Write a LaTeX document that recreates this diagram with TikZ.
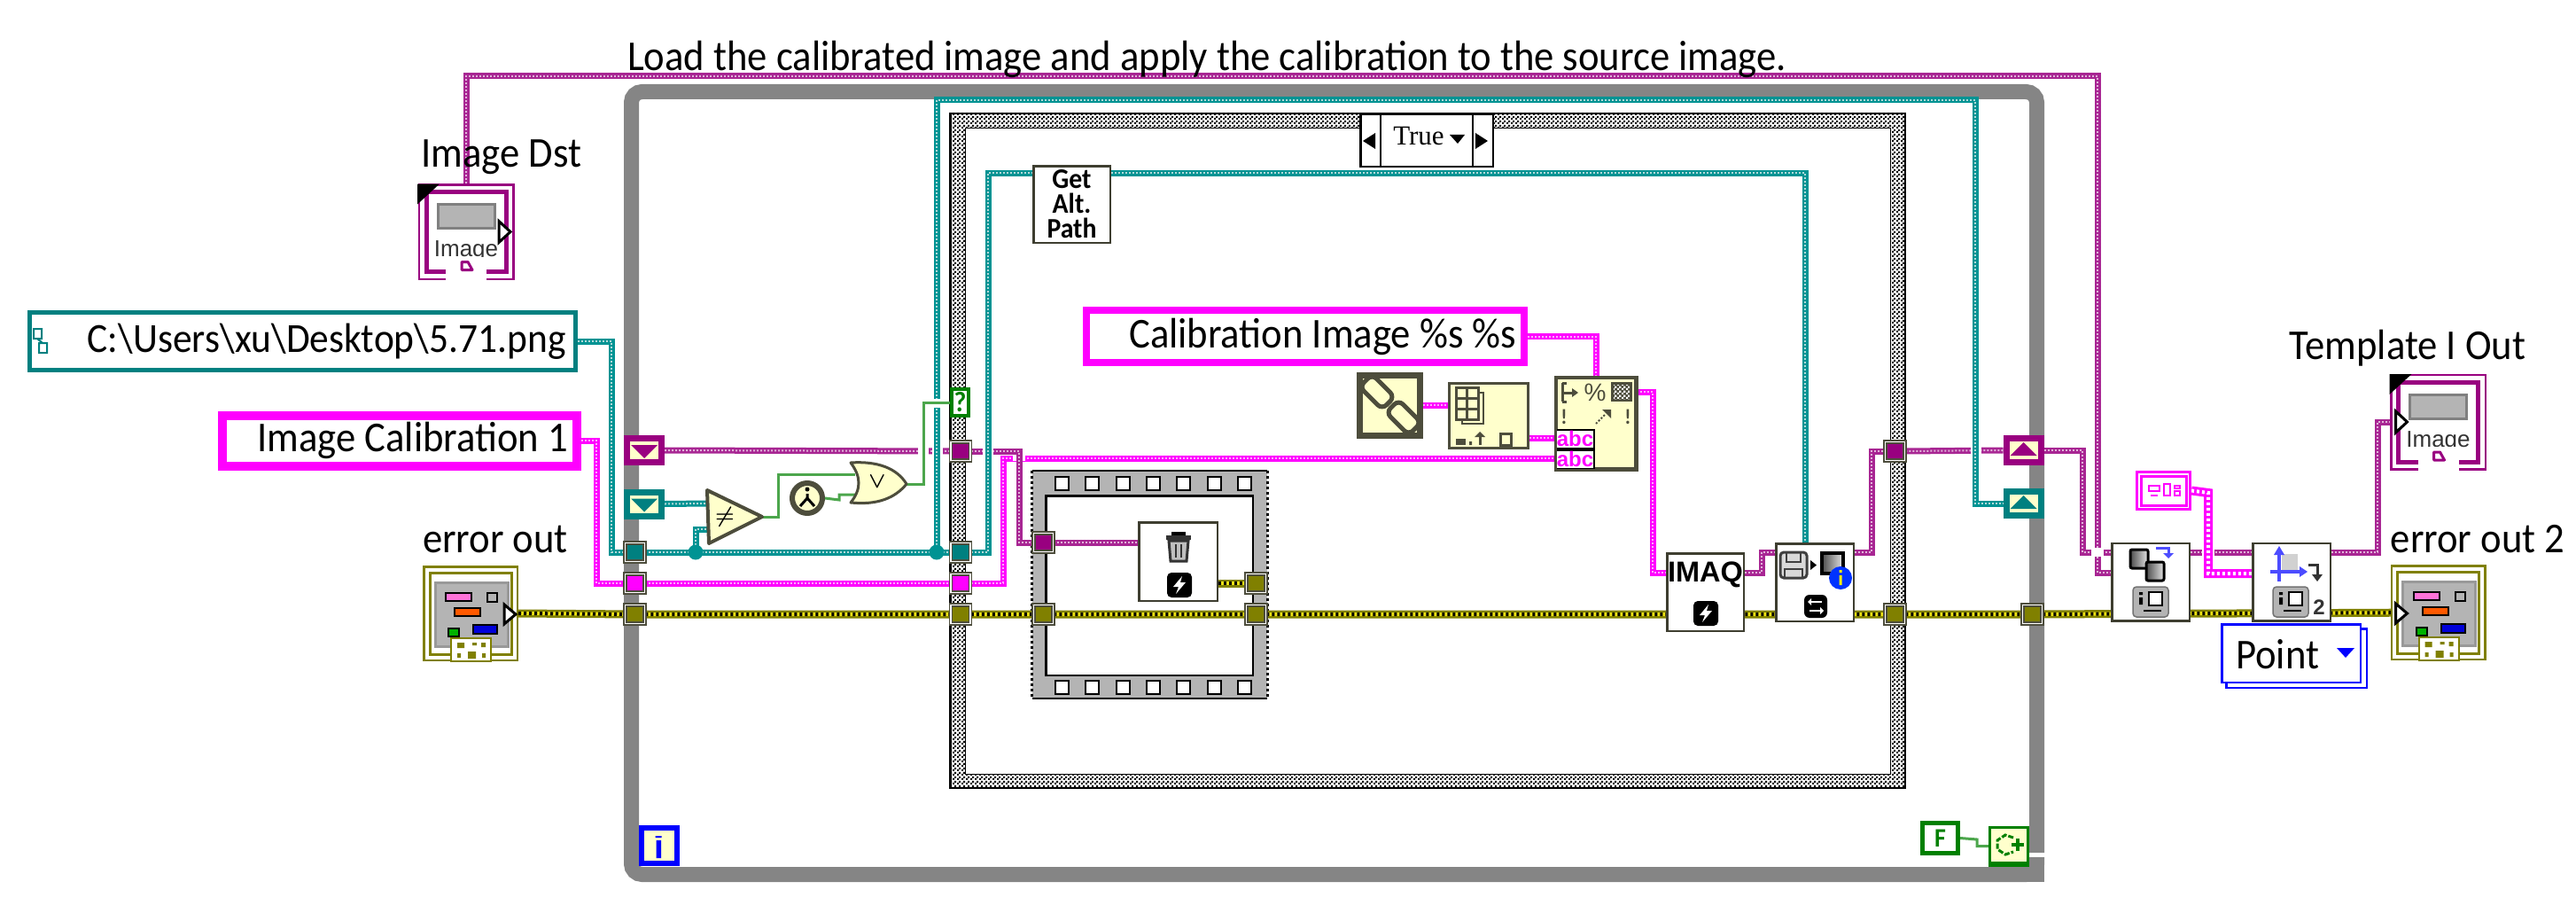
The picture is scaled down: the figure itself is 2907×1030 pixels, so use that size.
\documentclass[tikz,border=0pt]{standalone}
\usepackage{fontspec}
\setmainfont{Carlito}[FakeStretch=0.93]
\newfontfamily\liberationserif{Liberation Serif}
\newfontfamily\liberationsans{Liberation Sans}
\usetikzlibrary{patterns,calc}
\definecolor{lvpurple}{HTML}{990080}
\definecolor{lvteal}{HTML}{008080}
\definecolor{lvmag}{HTML}{FF00FF}
\definecolor{lvolive}{HTML}{808000}
\definecolor{lvgreen}{HTML}{008000}
\definecolor{lvblue}{HTML}{0000FF}
\definecolor{lvyellow}{HTML}{FFFFCC}
\definecolor{lvdark}{HTML}{4D4D3C}
\definecolor{lvgray}{HTML}{858585}
\definecolor{lvpanel}{HTML}{B4B4B4}
\pgfdeclarelayer{bg}
\pgfdeclarelayer{wires}
\pgfsetlayers{bg,wires,main}
\pgfdeclarepatternformonly{finecheck}{\pgfpointorigin}{\pgfqpoint{5pt}{5pt}}{\pgfqpoint{5pt}{5pt}}{%
  \pgfpathrectangle{\pgfpointorigin}{\pgfqpoint{2.5pt}{2.5pt}}%
  \pgfpathrectangle{\pgfqpoint{2.5pt}{2.5pt}}{\pgfqpoint{2.5pt}{2.5pt}}%
  \pgfusepath{fill}}
\tikzset{
  lab/.style={font=\fontsize{48}{52}\selectfont,inner sep=0},
  % wires: a coloured band with a dotted core
  wpur/.style={draw=lvpurple!85!white,line width=7,postaction={draw=white!70!lvpurple,line width=2,dash pattern=on 2pt off 2pt}},
  wteal/.style={draw=lvteal!85!cyan,line width=7,postaction={draw=white!70!lvteal,line width=2,dash pattern=on 2pt off 2pt}},
  wmag/.style={draw=lvmag,line width=7,postaction={draw=white!65!lvmag,line width=2,dash pattern=on 2pt off 2pt}},
  werr/.style={draw=lvolive,line width=9,postaction={draw=yellow!85!lvolive,line width=4},postaction={draw=black,line width=4,dash pattern=on 3pt off 3pt}},
  wbool/.style={draw=lvgreen!70!white,line width=3},
  whatch/.style={draw=lvmag,line width=10,postaction={draw=white,line width=4,dash pattern=on 3pt off 3pt}},
  gap/.style={draw=white,line width=12},
  whileloop/.style={rectangle,draw=lvgray,line width=17,fill=white,rounded corners=12,inner sep=0},
  casefr/.style={rectangle,draw=black,line width=2.5,pattern=finecheck,pattern color=black,inner sep=0},
  blk/.style={rectangle,draw=lvdark!80!black,line width=2.5,fill=white,inner sep=0},
  ybox/.style={rectangle,draw=lvdark,line width=3,fill=lvyellow,inner sep=0},
  tun/.style={rectangle,draw=lvdark,line width=1.5,double=white,double distance=1.5,minimum width=22,minimum height=21,inner sep=0},
  sreg/.style={rectangle,draw=#1,line width=7,fill=lvyellow,minimum width=39,minimum height=27,inner sep=0},
  junc/.style={circle,fill=lvteal!85!cyan,minimum size=17,inner sep=0},
  strcon/.style={rectangle,draw=lvmag,line width=8,fill=white,inner sep=0,align=flush right},
  gate/.style={draw=lvdark,line width=3,fill=lvyellow,line join=round},
  bolt/.pic={
    \fill[black,rounded corners=5] (-14,-14) rectangle (14,14);
    \fill[white] (3,-10) -- (-7,2) -- (-1,2) -- (-4,10) -- (7,-3) -- (1,-3) -- cycle;
  },
  device/.pic={
    \fill[lvpanel,draw=black!55,line width=1.5,rounded corners=4] (-20,-17) rectangle (20,17);
    \fill[white,draw=black,line width=2] (-2,-11) rectangle (13,4);
    \fill[black] (-13,-11) rectangle (-9,-8) (-13,-5) rectangle (-9,3);
    \draw[black,line width=2] (-8,10) -- (12,10);
  },
}
\begin{document}
\begin{tikzpicture}[x=1pt,y=-1pt]
  \useasboundingbox (0,0) rectangle (2907,1030);
  % the two structures
  \begin{pgfonlayer}{bg}
    \node[whileloop,minimum width=1586,minimum height=883] (loop) at (1505.5,545) {};
    \fill[lvgray] (2280,967) rectangle (2307,995);
    \fill[white] (2290,962) rectangle (2309,967);
    \node[casefr,minimum width=1077.5,minimum height=760.5] (casefr) at (1611,508.5) {};
    \node[rectangle,draw=black,line width=1,fill=white,minimum width=1044,minimum height=729] (casein) at (1611.5,509) {};
    % film strip
    \node[rectangle,fill=lvpanel,minimum width=265,minimum height=257] (film) at (1297.5,659.5) {};
    \draw[black,line width=2] (film.north west) -- (film.north east) (film.south west) -- (film.south east);
    \draw[black,line width=3,dashed] (film.north west) -- (film.south west) (film.north east) -- (film.south east);
    \node[rectangle,draw=black,line width=2.5,fill=white,minimum width=233.5,minimum height=202.5] (filmin) at (1297,660.5) {};
    \foreach \x in {1198,1232,1267,1301,1335,1370,1404} {
      \node[rectangle,draw=black,line width=2,fill=white,minimum size=15] (ha\x) at (\x,545) {};
      \node[rectangle,draw=black,line width=2,fill=white,minimum size=15] (hb\x) at (\x,775) {};
    }
  \end{pgfonlayer}
  % texts
  \node[lab,anchor=west] (title) at (708,67) {Load the calibrated image and apply the calibration to the source image.};
  \node[lab] (dstlab) at (566,177) {Image Dst};
  \node[lab] (errlab) at (559,608) {error out};
  \node[lab] (outlab) at (2717,393) {Template I Out};
  \node[lab] (errlab2) at (2796,608) {error out 2};
  % controls and constants
  \node[lab,font=\fontsize{46.7}{50}\selectfont,rectangle,draw=lvteal,line width=5,fill=white,minimum width=616,minimum height=65,text width=595,align=flush right] (pathc) at (341,385) {C:\textbackslash Users\textbackslash xu\textbackslash Desktop\textbackslash 5.71.png};
  \draw[lvteal,line width=2] (38,371) rectangle (47,382) (44,387) rectangle (53,398) (42,382) -- (48,387);
  \node[lab,strcon,line width=10,minimum width=400,minimum height=57,text width=380] (imgcal) at (451,497) {Image Calibration 1};
  \node[lab,strcon,minimum width=494,minimum height=59,text width=476] (calcon) at (1473,379.5) {Calibration Image \%s \%s};
  % terminals
  \foreach \n/\x/\y/\t in {imgd/526/261.5/37,imgt/2751.5/476/-48} {
    \begin{scope}[shift={(\x,\y)}]
      \node[rectangle,draw=lvpurple,line width=2.5,fill=white,minimum size=106.5,inner sep=0] (\n) at (0,0) {};
      \draw[lvpurple,line width=5] (-45,-45) rectangle (45,45);
      \fill[lvpanel,draw=black!50,line width=3] (-32,-31) rectangle (32,-4);
      \node[font=\liberationsans\fontsize{26}{26}\selectfont,text=black!80,inner sep=0] (\n txt) at (0,22) {Image};
      \fill[white] (-23,28) rectangle (23,55);
      \draw[lvpurple,line width=3,line join=round] (-5,34) -- (2,34) -- (7,43) -- (-5,43) -- cycle;
      \draw[black,line width=3,fill=white] (\t,-12) -- ++(13,12) -- ++(-13,12) -- cycle;
      \fill[black] (-55,-54) -- (-30,-54) -- (-55,-31) -- cycle;
    \end{scope}
  }
  \foreach \n/\x/\y/\t in {errin/531/692/38,errout/2751.5/691/-48} {
    \begin{scope}[shift={(\x,\y)}]
      \node[rectangle,draw=lvolive,line width=2.5,fill=white,minimum size=105.5,inner sep=0] (\n) at (0,0) {};
      \draw[lvolive,line width=3] (-46,-46) rectangle (46,46);
      \fill[lvpanel,draw=black!40,line width=3] (-40,-35) rectangle (42,37);
      \fill[pink!60!lvmag,draw=black,line width=2] (-28,-23) rectangle (1,-14);
      \fill[lvpanel,draw=black,line width=2] (19,-23) rectangle (30,-13);
      \fill[orange!70!red,draw=black,line width=2] (-18,-6) rectangle (11,3);
      \fill[green!70!black,draw=black,line width=2] (-25,17) rectangle (-13,26);
      \fill[blue!85!black,draw=black,line width=2] (3,13) rectangle (30,23);
      \draw[lvolive,line width=2,fill=white] (-22,28) rectangle (23,54);
      \fill[lvolive] (-15,33) rectangle (-7,39) (2,33) rectangle (7,36) (12,33) rectangle (17,38) (-15,45) rectangle (-11,50) (-3,43) rectangle (6,51) (13,45) rectangle (17,50);
      \draw[black,line width=3,fill=white] (\t,-10) -- ++(13,11) -- ++(-13,11) -- cycle;
    \end{scope}
  }
  % shift registers, tunnels
  \foreach \n/\x/\y/\c in {srp/727/508/lvpurple,srt/727/568.5/lvteal} {
    \node[sreg=\c] (\n) at (\x,\y) {};
    \fill[\c] (\x-15,\y-6) -- (\x+15,\y-6) -- (\x+6,\y+3) -- (\x,\y+9) -- (\x-6,\y+3) -- cycle;
  }
  \foreach \n/\x/\y/\c in {srpr/2283.5/508/lvpurple,srtr/2283.5/568/lvteal} {
    \node[sreg=\c] (\n) at (\x,\y) {};
    \fill[\c] (\x-15,\y+6) -- (\x+15,\y+6) -- (\x+6,\y-3) -- (\x,\y-9) -- (\x-6,\y-3) -- cycle;
  }
  \foreach \n/\x/\y/\c in {wl1/716.5/623/lvteal,wl2/716.5/658/lvmag,wl3/716.5/693/lvolive,
                           cl1/1084/509/lvpurple,cl2/1084/623/lvteal,cl3/1084/658/lvmag,cl4/1084/693/lvolive,
                           fl1/1177.5/612/lvpurple,fl2/1177.5/693/lvolive,fr1/1417.5/658/lvolive,fr2/1417.5/693/lvolive,
                           cr1/2138.5/509/lvpurple,cr2/2138.5/693/lvolive,wr1/2293.5/693/lvolive} {
    \node[tun,fill=\c] (\n) at (\x,\y) {};
  }
  \node[junc] (j1) at (785,623) {};
  \node[junc] (j2) at (1057,623) {};
  % comparison and or
  \draw[gate,line width=4] (798,553) -- (860,583) -- (800,613) -- cycle;
  \node[font=\boldmath\fontsize{36}{36}\selectfont,inner sep=0] (ne) at (818,583) {$\neq$};
  \node[circle,draw=lvdark,line width=6,fill=lvyellow,minimum size=34,inner sep=0] (stopb) at (911,562) {};
  \fill[black] (911,552) circle (2.5);
  \draw[black,line width=3] (911,562) -- (911,557) (911,562) -- (903,571) (911,562) -- (919,571);
  \draw[gate] (960,522) .. controls (990,520) and (1012,528) .. (1023,546) .. controls (1010,562) and (990,570) .. (960,567) .. controls (972,552) and (972,538) .. cycle;
  \node[font=\boldmath\fontsize{30}{30}\selectfont,inner sep=0] (ornode) at (990,544) {$\vee$};
  \node[rectangle,draw=lvgreen,line width=4,fill=white,text=lvgreen,font=\bfseries\fontsize{32}{32}\selectfont,minimum width=19,minimum height=30,inner sep=0] (casesel) at (1083.5,454) {?};
  % selector
  \node[rectangle,draw=black,line width=2.5,fill=white,minimum width=149.5,minimum height=58.5] (sel) at (1610,158.5) {};
  \draw[black,line width=2.5] (1558,128) -- (1558,189) (1662,128) -- (1662,189);
  \fill[black] (1552,150) -- (1552,168) -- (1538,159) -- cycle (1665,150) -- (1665,168) -- (1679,159) -- cycle (1636,152) -- (1653,152) -- (1645,162) -- cycle;
  \node[font=\liberationserif\fontsize{31}{31}\selectfont,inner sep=0] (seltxt) at (1601,154) {True};
  % blocks inside the case
  \node[blk,align=center,font=\bfseries\fontsize{32}{28}\selectfont] (alt) at (1209.5,230.5) [minimum width=86.5,minimum height=86.5] {Get\\Alt.\\Path};
  \node[blk,minimum width=88.5,minimum height=88.5] (del) at (1329.5,633.5) {};
  \fill[black] (1322,600) rectangle (1338,604);
  \fill[black!80] (1316,604) rectangle (1344,609);
  \draw[black!80,line width=3,fill=black!25] (1319,610) -- (1341,610) -- (1339,633) -- (1321,633) -- cycle;
  \draw[black!80,line width=2.5] (1327,614) -- (1327,629) (1333,614) -- (1333,629);
  \pic at (1331,660) {bolt};
  \node[ybox,line width=7,minimum size=68] (chain) at (1568.5,457) {};
  \draw[lvdark,line width=5,rounded corners=7,rotate around={-45:(1554,442)}] (1536,432) rectangle (1572,452);
  \draw[lvdark,line width=5,rounded corners=7,rotate around={-45:(1584,471)}] (1566,461) rectangle (1602,481);
  \node[ybox,minimum width=89,minimum height=73] (bld) at (1680,469) {};
  \draw[lvdark,line width=2.5,fill=lvyellow] (1650,443) rectangle (1674,478);
  \draw[lvdark,line width=3,fill=lvyellow] (1643,437) rectangle (1668,473) (1643,449) -- (1668,449) (1643,461) -- (1668,461) (1655.5,437) -- (1655.5,473);
  \fill[lvdark] (1643,495) rectangle (1654,502);
  \draw[lvdark,line width=3] (1670,502) -- (1670,492);
  \fill[lvdark] (1664,493) -- (1676,493) -- (1670,487) -- cycle (1658,498) rectangle (1661,502);
  \draw[lvdark,line width=3] (1693,489) rectangle (1705,502);
  \node[ybox,minimum width=89,minimum height=102] (fmt) at (1801,477.5) {};
  \draw[lvdark,line width=3] (1763,432) -- (1763,453) (1763,432) -- (1768,432) (1763,453) -- (1768,453) (1763,443) -- (1776,443);
  \fill[lvdark] (1774,438) -- (1781,443) -- (1774,448) -- cycle;
  \node[font=\liberationsans\fontsize{28}{28}\selectfont,text=lvdark,inner sep=0] (pct) at (1800,443) {\%};
  \fill[lvdark] (1818,431) rectangle (1842,453);
  \fill[pattern=finecheck,pattern color=white] (1821,434) rectangle (1839,450);
  \node[font=\bfseries\fontsize{24}{24}\selectfont,text=lvdark,inner sep=0] (excl) at (1765,470) {!};
  \node[font=\bfseries\fontsize{24}{24}\selectfont,text=lvdark,inner sep=0] (excr) at (1837,470) {!};
  \draw[lvdark,line width=2,dotted] (1801,478) -- (1812,467);
  \fill[lvdark] (1808,462) -- (1818,462) -- (1818,472) -- cycle;
  \foreach \n/\y in {abc1/495,abc2/518} {
    \node[rectangle,draw=black,line width=2,fill=white,text=lvmag,font=\bfseries\liberationsans\fontsize{24}{24}\selectfont,minimum width=43,minimum height=21,inner sep=0] (\n) at (1777.5,\y) {abc};
  }
  \draw[lvdark,line width=3] (1755,425) rectangle (1847,530);
  \node[blk,minimum width=86.5,minimum height=87.5] (imaq) at (1924.5,668) {};
  \node[font=\bfseries\liberationsans\fontsize{32.5}{32.5}\selectfont,inner sep=0] (imaqtxt) at (1924.5,648) {IMAQ};
  \pic at (1925,692) {bolt};
  \node[blk,minimum width=87.5,minimum height=87.5] (n2) at (2048,657) {};
  \draw[black!75,line width=3,fill=black!15,rounded corners=4] (2009,623) rectangle (2039,652);
  \draw[black!75,line width=2] (2016,623) rectangle (2032,634) (2014,642) rectangle (2034,652);
  \fill[black] (2043,632) -- (2050,637.5) -- (2043,643) -- cycle;
  \shade[left color=black!70,right color=black!10,draw=black,line width=4] (2056,624) rectangle (2080,647);
  \fill[lvblue!80!cyan] (2077,652) circle (13);
  \fill[yellow] (2075.5,643) rectangle (2078.5,646) (2075.5,649) rectangle (2078.5,660);
  \fill[black,rounded corners=6] (2036,671) rectangle (2062,697);
  \draw[white,line width=2.5] (2041,679) -- (2056,679) (2042,689) -- (2057,689);
  \fill[white] (2044,675) -- (2040,679) -- (2044,683) -- cycle (2054,685) -- (2058,689) -- (2054,693) -- cycle;
  \node[blk,minimum width=87.5,minimum height=87.5] (n3) at (2427,656.5) {};
  \shade[left color=black!70,right color=black!10,draw=black,line width=3,rounded corners=2] (2404,620) rectangle (2424,641);
  \shade[left color=black!70,right color=black!10,draw=black,line width=3,rounded corners=2] (2422,634) rectangle (2442,655);
  \draw[lvblue!70!white,line width=3] (2433,618) -- (2447,618) -- (2447,626);
  \fill[lvblue!70!white] (2441,624) -- (2453,624) -- (2447,630) -- cycle;
  \pic at (2427,679) {device};
  \node[blk,minimum width=87.5,minimum height=87.5] (n4) at (2586,656.5) {};
  \fill[black!18] (2575,625) rectangle (2593,643);
  \draw[lvblue!70!white,line width=4] (2572,622) -- (2572,656) (2562,645) -- (2598,645);
  \fill[lvblue!70!white] (2566,626) -- (2578,626) -- (2572,616) -- cycle (2595,639) -- (2595,651) -- (2604,645) -- cycle;
  \draw[black!80,line width=3] (2605,637) -- (2615,637) -- (2615,652);
  \fill[black!80] (2609,648) -- (2621,648) -- (2615,656) -- cycle;
  \pic at (2585,679) {device};
  \node[font=\bfseries\liberationsans\fontsize{24}{24}\selectfont,text=black!80,inner sep=0] (two) at (2617,685) {2};
  % outside the loop
  \node[rectangle,draw=lvmag,line width=3,fill=white,minimum width=60,minimum height=42,inner sep=0] (smallc) at (2441.5,553.5) {};
  \draw[lvmag,line width=3] (2416,537) rectangle (2467,570);
  \draw[lvmag,line width=2.5] (2425,548) rectangle (2437,554) (2442,546) rectangle (2449,559) (2454,548) rectangle (2460,551) (2454,554) rectangle (2460,559) (2427,559) -- (2435,559);
  \node[rectangle,draw=lvblue,line width=2.5,fill=white,minimum width=158.5,minimum height=66.5] (ptshadow) at (2591.5,742.5) {};
  \node[lab,rectangle,draw=lvblue,line width=2.5,fill=white,minimum width=156.5,minimum height=65.5,anchor=north west] (point) at (2506,703) {};
  \node[lab,anchor=west] (pointtxt) at (2523,738) {Point};
  \fill[lvblue] (2637,731) -- (2657,731) -- (2647,742) -- cycle;
  \node[rectangle,draw=lvblue,line width=6,fill=lvyellow,minimum size=40,inner sep=0] (iterm) at (744,954) {};
  \fill[lvblue] (739.5,943) rectangle (746.5,945) (740.5,948) rectangle (746,968);
  \node[rectangle,draw=lvgreen,line width=5,fill=white,text=lvgreen,font=\bfseries\fontsize{30}{30}\selectfont,minimum width=40,minimum height=34,inner sep=0] (fconst) at (2189.5,945.5) {F};
  \node[rectangle,draw=lvgreen,line width=3,fill=lvyellow,minimum width=43,minimum height=42,inner sep=0] (stopt) at (2267,954.5) {};
  \fill[lvgreen] (2244,972) rectangle (2290,978);
  \draw[lvgreen,line width=3,dash pattern=on 6pt off 2pt] (2272,945) -- (2263,942) -- (2254,948) -- (2254,958) -- (2263,964) -- (2272,961);
  \draw[lvgreen,line width=3.5] (2270,953) -- (2284,953) (2277,946) -- (2277,960);
  % pins on the blocks
  \foreach \n/\x/\y in {altin/1165/195,altout/1254/195,delin/1284/612,delout/1375/658,bldout/1726/494,fmtin/1756/494,fmtin2/1756/517,fmtout/1847/442,
                        imaqin/1880/646,imaqout/1969/646,n2in/2003/623,n2top/2037/613,n2out/2093/623,n3in/2382/623,n3in2/2382/646,n3out/2472/623,
                        n4in/2541/623,n4in2/2541/647,n4out/2631/623,imgtin/2705/476,neina/798/568,neinb/798/597,neout/860/583,orina/965/535,orinb/968/558,orout/1023/546} {
    \coordinate (\n) at (\x,\y);
  }
  \begin{pgfonlayer}{wires}
    % wires
    \draw[wmag] (imgcal.east) -- (673,497) |- (wl2.west);
    \draw[wmag] (wl2.east) -- (cl3.west);
    \draw[wmag] (cl3.east) -- (1132,658) |- (fmtin2);
    \draw[wmag] (calcon.east) -| (fmt.north);
    \draw[wmag] (chain.east) -- (chain.east -| bld.west);
    \draw[wmag] (bldout) -- (fmtin);
    \draw[wmag] (fmtout) -- (1865,442) |- (imaqin);
    \draw[gap,line width=14] (1150,512) -- (1150,520);
    \draw[wpur] (imgd.north) |- (2367,86) |- (n3in2);
    \draw[wpur] (srp.east) -- (cl1.west);
    \draw[wpur] (cl1.east) -- (1150,509) |- (fl1.west);
    \draw[wpur] (fl1.east) -- (delin);
    \draw[wpur] (imaqout) -- (1988,646) |- (n2in);
    \draw[wpur] (n2out) -- (2112,623) |- (cr1.west);
    \draw[wpur] (cr1.east) -- (srpr.west);
    \draw[wpur] (srpr.east) -- (2350,508) |- (n3in);
    \draw[wpur] (n3out) -- (n4in);
    \draw[wpur] (n4out) -- (2683,623) |- (imgtin);
    % gaps where another wire crosses
    \foreach \x/\y in {1042/508,1058/508,1115/509,2230/508} { \draw[gap] (\x,\y-5) -- (\x,\y+5); }
    \foreach \x/\y in {2367/623,2492/623} { \draw[gap,line width=14] (\x,\y-5) -- (\x,\y+5); }
    \draw[wteal] (pathc.east) -- (690,385) |- (wl1.west);
    \draw[wteal] (wl1.east) -- (cl2.west);
    \draw[wteal] (j1.center) |- (neinb);
    \draw[wteal] (srt.east) -- (neina);
    \draw[wteal] (j2.center) |- (2229,113) |- (srtr.west);
    \draw[wteal] (cl2.east) -- (1115,623) |- (altin);
    \draw[wteal] (altout) -| (n2top);
    \draw[gap,line width=10] (1050,455) -- (1064,455);
    \draw[wbool] (neout) -- (878,583) |- (orina);
    \draw[wbool] (stopb.east) -- (947,564) |- (orinb);
    \draw[wbool] (orout) -- (1042,546) |- (casesel.west);
    \draw[wbool] (fconst.east) -- (2231,947) |- (stopt.west);
    \draw[whatch] (smallc.east) -- (2492,556) |- (n4in2);
    \draw[werr] (errin.east) -- (wl3) -- (cl4) -- (fl2) -- (fr2) -- (cr2) -- (wr1) -- (errout.center);
    \draw[werr] (delout) -- (fr1.west);
  \end{pgfonlayer}
\end{tikzpicture}
\end{document}
